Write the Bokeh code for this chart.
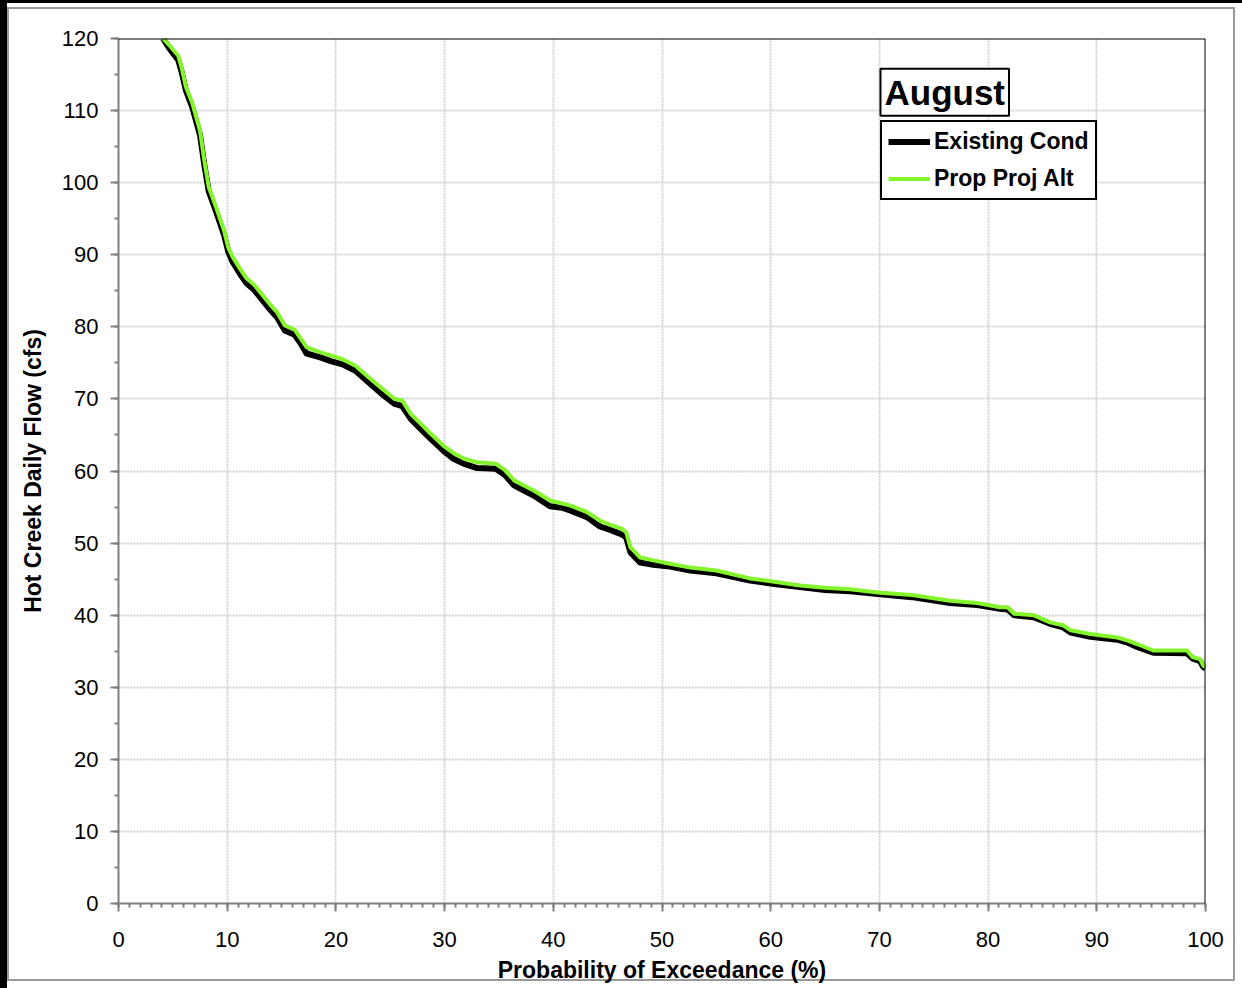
from bokeh.plotting import figure
from bokeh.models import (Range1d, SingleIntervalTicker, Span, Legend, LegendItem, Label)
from bokeh.embed import file_html
from bokeh.resources import INLINE

# Probability of exceedance (%)
x_pct = [4.1, 4.6, 5.5, 5.8, 6.2, 6.8, 7.5, 7.9, 8.3, 9.0, 9.7, 10.1, 10.5, 11.2, 11.8, 12.5,
         13.3, 14.0, 14.6, 15.3, 16.2, 16.8, 17.3, 18.5, 19.6, 20.6, 21.8, 23.0, 24.2, 25.4,
         26.1, 26.9, 27.7, 28.7, 29.9, 30.8, 31.8, 33.0, 34.7, 35.5, 36.4, 37.3, 38.2, 39.7,
         40.8, 41.6, 43.1, 44.3, 45.3, 46.3, 46.7, 47.1, 48.0, 49.2, 50.5, 52.6, 55.0, 58.1,
         60.5, 62.7, 65.0, 67.3, 70.1, 73.0, 76.5, 79.0, 81.1, 81.8, 82.4, 84.2, 85.7, 86.9,
         87.6, 89.4, 91.9, 92.8, 93.7, 95.2, 98.3, 98.8, 99.5, 99.8, 100.0]

# Hot Creek daily flow (cfs) - Prop Proj Alt
flow_alt = [120, 119.2, 117.6, 116, 113.3, 111, 107.2, 103, 99.4, 96.5, 93.4, 91, 89.7, 88, 86.7,
            85.8, 84.3, 83, 82, 80.2, 79.6, 78.3, 77.2, 76.5, 76, 75.5, 74.6, 73, 71.5, 70,
            69.8, 67.9, 66.7, 65.2, 63.5, 62.5, 61.7, 61.2, 61.0, 60.2, 58.7, 58.0, 57.3, 55.9,
            55.5, 55.2, 54.3, 53.1, 52.5, 52.0, 51.5, 49.4, 48.0, 47.6, 47.2, 46.6, 46.2, 45.1,
            44.6, 44.1, 43.8, 43.6, 43.1, 42.8, 42.0, 41.7, 41.1, 41.1, 40.2, 40.0, 39.0, 38.6,
            37.9, 37.4, 36.9, 36.5, 36.0, 35.1, 35.1, 34.2, 33.9, 33.0, 32.8]

# Hot Creek daily flow (cfs) - Existing Cond
flow_exist = [120, 118.8, 117.0, 115.4, 112.8, 110.4, 106.6, 102.4, 98.8, 95.9, 92.8, 90.4, 89.0,
              87.3, 86.0, 85.1, 83.6, 82.3, 81.3, 79.5, 78.9, 77.6, 76.3, 75.8, 75.2, 74.8, 73.9,
              72.3, 70.7, 69.3, 69.0, 67.2, 66.0, 64.5, 62.8, 61.7, 61.0, 60.4, 60.3, 59.5, 58.0,
              57.3, 56.6, 55.1, 54.9, 54.5, 53.6, 52.3, 51.8, 51.2, 50.8, 48.7, 47.3, 47.0, 46.8,
              46.2, 45.8, 44.8, 44.3, 43.9, 43.5, 43.3, 42.9, 42.5, 41.7, 41.4, 40.9, 40.8, 40.0,
              39.7, 38.8, 38.3, 37.6, 37.0, 36.6, 36.2, 35.6, 34.8, 34.7, 34.0, 33.6, 32.8, 32.6]

series_names = ["Existing Cond", "Prop Proj Alt"]
title_text = "August"

FONT = "Liberation Sans"
W, H = 1242, 988

p = figure(width=W, height=H, output_backend="svg", toolbar_location=None,
           x_range=Range1d(0, 100), y_range=Range1d(0, 120),
           min_border_left=118, min_border_right=W - 1205, min_border_top=38,
           min_border_bottom=H - 903)
p.outline_line_color = None
p.background_fill_color = "white"
p.border_fill_color = "white"
p.border_fill_alpha = 0
p.styles = {"box-shadow": "inset 7px 3px 0 0 black",
            "outline": "2px solid #9a9a9a",
            "outline-offset": "-9px"}

for ax, interval, nminor in ((p.xaxis[0], 10, 10), (p.yaxis[0], 10, 2)):
    ax.ticker = SingleIntervalTicker(interval=interval, num_minor_ticks=nminor)
    ax.axis_line_color = "#808080"
    ax.axis_line_width = 2
    ax.major_tick_line_color = "#808080"
    ax.major_tick_line_width = 2
    ax.minor_tick_line_color = "#808080"
    ax.minor_tick_line_width = 2
    ax.major_tick_in = 0
    ax.major_tick_out = 8
    ax.minor_tick_in = 0
    ax.minor_tick_out = 4
    ax.major_label_text_font = FONT
    ax.major_label_text_font_size = "22px"
    ax.major_label_text_color = "black"
    ax.axis_label_text_font = FONT
    ax.axis_label_text_font_size = "23px"
    ax.axis_label_text_font_style = "bold"
    ax.axis_label_text_color = "black"

p.xaxis.axis_label = "Probability of Exceedance (%)"
p.yaxis.axis_label = "Hot Creek Daily Flow (cfs)"
p.xaxis.major_label_standoff = 20
p.yaxis.major_label_standoff = 12
p.xaxis.axis_label_standoff = 7
p.yaxis.axis_label_standoff = 13

for g in (p.xgrid[0], p.ygrid[0]):
    g.grid_line_color = "#d4d4d4"
    g.grid_line_width = 2
    g.grid_line_dash = "2 1"

p.add_layout(Span(location=120, dimension="width", line_color="black", line_width=2))
p.add_layout(Span(location=100, dimension="height", line_color="black", line_width=2))

r1 = p.line(x_pct, flow_exist, line_color="black", line_width=6, line_join="round")
r2 = p.line(x_pct, flow_alt, line_color="#84f52c", line_width=4, line_join="round")

legend = Legend(items=[LegendItem(label=series_names[0], renderers=[r1]),
                       LegendItem(label=series_names[1], renderers=[r2])],
                location=(762, 703), orientation="vertical")
legend.border_line_color = "black"
legend.border_line_alpha = 1
legend.border_line_width = 2
legend.background_fill_color = "white"
legend.background_fill_alpha = 1
legend.label_text_font = FONT
legend.label_text_font_size = "23px"
legend.label_text_font_style = "bold"
legend.label_text_color = "black"
legend.glyph_width = 42
legend.glyph_height = 23
legend.label_height = 23
legend.label_standoff = 4
legend.spacing = 10
legend.padding = 6
legend.margin = 0
p.add_layout(legend, "center")

title_label = Label(x=70.1, y=109.3, text=title_text, text_font=FONT, text_font_size="35px",
                    text_font_style="bold", text_color="black",
                    background_fill_color="white", border_line_color="black",
                    border_line_width=2, padding=4)
p.add_layout(title_label)

open("out.html", "w").write(file_html(p, INLINE))
